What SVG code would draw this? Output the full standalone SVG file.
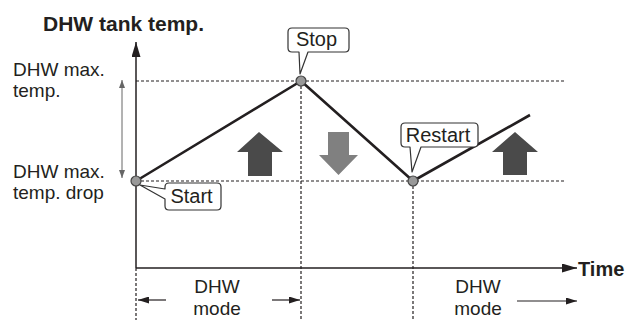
<svg xmlns="http://www.w3.org/2000/svg" width="627" height="320" viewBox="0 0 627 320">
<style>
text{font-family:"Liberation Sans",Arial,sans-serif;fill:#231f20;font-size:20px}
.s{font-size:19px}
.b{font-weight:bold}
.dot{stroke:#231f20;stroke-width:1.2;stroke-dasharray:3 2;fill:none}
.ax{stroke:#231f20;stroke-width:1.5;fill:none}
.plot{stroke:#231f20;stroke-width:2.6;fill:none;stroke-linejoin:round}
.pt{fill:#999;stroke:#444;stroke-width:1.2}
.call{fill:#fff;stroke:#333;stroke-width:1.2;stroke-linejoin:round}
.thin{stroke:#231f20;stroke-width:1.2;fill:none}
</style>
<defs>
<marker id="ah" markerWidth="15" markerHeight="9" refX="15" refY="4.5" orient="auto" markerUnits="userSpaceOnUse">
<path d="M0,0 L15,4.5 L0,9 Z" fill="#231f20"/>
</marker>
<marker id="ahs" markerWidth="11" markerHeight="7" refX="11" refY="3.5" orient="auto" markerUnits="userSpaceOnUse">
<path d="M0,0 L11,3.5 L0,7 Z" fill="#231f20"/>
</marker>
<marker id="ag" markerWidth="8" markerHeight="6" refX="8" refY="3" orient="auto-start-reverse" markerUnits="userSpaceOnUse">
<path d="M0,0 L8,3 L0,6 Z" fill="#666"/>
</marker>
</defs>

<g id="labels">
<text class="b" x="43" y="31" style="font-size:21px">DHW tank temp.</text>
<text class="s" x="13" y="75.5">DHW max.</text>
<text class="s" x="13" y="97">temp.</text>
<text class="s" x="13" y="177.5">DHW max.</text>
<text class="s" x="13" y="199">temp. drop</text>
<text class="b" x="578" y="276">Time</text>
<text class="s" x="217" y="293" text-anchor="middle">DHW</text>
<text class="s" x="217" y="314.5" text-anchor="middle">mode</text>
<text class="s" x="478" y="293" text-anchor="middle">DHW</text>
<text class="s" x="478" y="314.5" text-anchor="middle">mode</text>
</g>

<g id="connectors">
<line class="dot" x1="136" y1="81" x2="565" y2="81"/>
<line class="dot" x1="136" y1="181" x2="565" y2="181"/>
<line class="dot" x1="301" y1="81" x2="301" y2="320"/>
<line class="dot" x1="413" y1="181" x2="413" y2="320"/>
<line class="dot" x1="136" y1="268" x2="136" y2="320"/>
<line class="ax" x1="136" y1="268" x2="136" y2="42" marker-end="url(#ah)"/>
<line class="ax" x1="136" y1="268" x2="577" y2="268" marker-end="url(#ah)"/>
<line x1="122" y1="80" x2="122" y2="178" stroke="#666" stroke-width="1" marker-start="url(#ag)" marker-end="url(#ag)"/>
<line class="thin" x1="166" y1="300" x2="138" y2="300" marker-end="url(#ahs)"/>
<line class="thin" x1="272" y1="300" x2="300" y2="300" marker-end="url(#ahs)"/>
<line class="thin" x1="517" y1="301" x2="577" y2="301" marker-end="url(#ahs)"/>
<path class="plot" d="M136,181 L301,81 L413,181 L530,115"/>
</g>

<g id="heat-arrows">
<path d="M259,132 L283,152 L272,152 L272,176 L248,176 L248,152 L237,152 Z" fill="#4a4a4a"/>
<path d="M328,132 L349,132 L349,155 L358,155 L338.5,175 L319,155 L328,155 Z" fill="#808080"/>
<path d="M515,132 L538,152 L527,152 L527,175 L503,175 L503,152 L492,152 Z" fill="#4a4a4a"/>
</g>

<g id="start">
<path class="call" d="M169,183 H217 Q221,183 221,187 V206 Q221,210 217,210 H169 Q165,210 165,206 V199 L140,185 L165,189 V187 Q165,183 169,183 Z"/>
<text x="191.5" y="203" text-anchor="middle">Start</text>
<circle class="pt" cx="136" cy="181" r="5"/>
</g>

<g id="stop">
<path class="call" d="M292,28 H345 Q349,28 349,32 V48 Q349,52 345,52 H308 L300,74 L299,52 H292 Q288,52 288,48 V32 Q288,28 292,28 Z"/>
<text x="316.5" y="46" text-anchor="middle">Stop</text>
<circle class="pt" cx="301" cy="81" r="5"/>
</g>

<g id="restart">
<path class="call" d="M405,123 H474 Q478,123 478,127 V143 Q478,147 474,147 H421 L412,172 L410,147 H405 Q401,147 401,143 V127 Q401,123 405,123 Z"/>
<text x="438" y="142" text-anchor="middle">Restart</text>
<circle class="pt" cx="413" cy="181" r="5"/>
</g>
</svg>
